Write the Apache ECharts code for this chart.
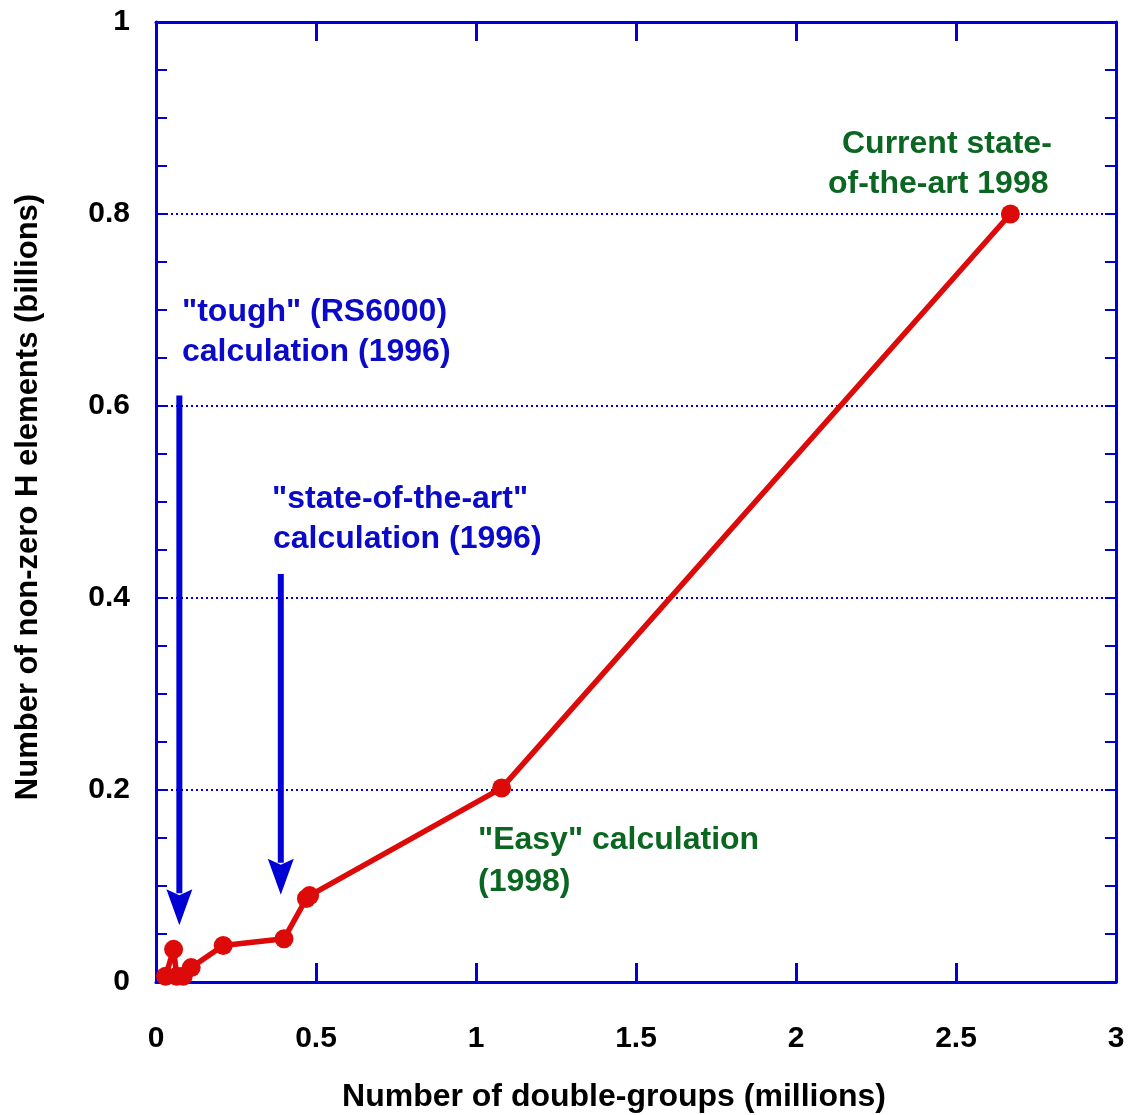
<!DOCTYPE html>
<html>
<head>
<meta charset="utf-8">
<script src="https://cdn.jsdelivr.net/npm/echarts@6/dist/echarts.min.js"></script>
<style>
html,body{margin:0;padding:0;background:#fff;}
#chart{width:1130px;height:1115px;}
</style>
</head>
<body>
<div id="chart"></div>
<script>
// Data (x: millions of double-groups, y: billions of non-zero H elements)
const xValues = [0.03, 0.055, 0.065, 0.085, 0.11, 0.21, 0.40, 0.47, 0.48, 1.08, 2.67];
const yValues = [0.006, 0.034, 0.006, 0.006, 0.015, 0.038, 0.045, 0.087, 0.090, 0.202, 0.80];
// Arrows: x, top y, tip y
const arrowX = [0.073, 0.39];
const arrowTop = [0.611, 0.425];
const arrowTip = [0.059, 0.091];
const xTicks = [0, 0.5, 1, 1.5, 2, 2.5, 3];
const yTicks = [0, 0.2, 0.4, 0.6, 0.8, 1];
const xAxisTitle = 'Number of double-groups (millions)';
const yAxisTitle = 'Number of non-zero H elements (billions)';

const FONT = '"Liberation Sans", Arial, Helvetica, sans-serif';
const BLUE = '#0000d4';
const TEXTBLUE = '#0a0ac8';
const GREEN = '#0b6621';
const RED = '#dd0a0a';

const chart = echarts.init(document.getElementById('chart'));
const pts = xValues.map((x, i) => [x, yValues[i]]);
const arrows = arrowX.map((x, i) => [x, arrowTop[i], arrowTip[i]]);

const fmt = v => String(Math.round(v * 1000) / 1000);

const baseX = {
  type: 'value', min: xTicks[0], max: xTicks[xTicks.length - 1], interval: 0.5,
  axisLine: {show: true, onZero: false, lineStyle: {color: BLUE, width: 3}},
  axisTick: {show: true, inside: true, length: 19, lineStyle: {color: BLUE, width: 3}},
  splitLine: {show: false}
};
const baseY = {
  type: 'value', min: yTicks[0], max: yTicks[yTicks.length - 1], interval: 0.2,
  axisLine: {show: true, onZero: false, lineStyle: {color: BLUE, width: 3}},
  axisTick: {show: true, inside: true, length: 11, lineStyle: {color: BLUE, width: 2}},
  minorTick: {show: true, splitNumber: 4, length: 11, lineStyle: {color: BLUE, width: 2}},
  splitLine: {show: false}
};

const annotations = [
  {x: 182, y: 310, text: '"tough" (RS6000)', color: TEXTBLUE},
  {x: 182, y: 350, text: 'calculation (1996)', color: TEXTBLUE},
  {x: 272, y: 497, text: '"state-of-the-art"', color: TEXTBLUE},
  {x: 273, y: 537, text: 'calculation (1996)', color: TEXTBLUE},
  {x: 478, y: 838, text: '"Easy" calculation', color: GREEN},
  {x: 478, y: 880, text: '(1998)', color: GREEN},
  {x: 842, y: 142, text: 'Current state-', color: GREEN},
  {x: 828, y: 182, text: 'of-the-art 1998', color: GREEN}
];

chart.setOption({
  animation: false,
  backgroundColor: '#fff',
  grid: {left: 156, right: 14, top: 22, bottom: 133, containLabel: false, outerBoundsMode: 'none'},
  xAxis: [
    Object.assign({}, baseX, {
      position: 'bottom',
      name: xAxisTitle, nameLocation: 'middle', nameGap: 99,
      nameTextStyle: {fontFamily: FONT, fontWeight: 'bold', fontSize: 32, color: '#000', padding: [0, 44, 0, 0]},
      axisLabel: {show: true, margin: 42, fontFamily: FONT, fontWeight: 'bold', fontSize: 30, color: '#000', formatter: fmt}
    }),
    Object.assign({}, baseX, {position: 'top', axisLabel: {show: false}})
  ],
  yAxis: [
    Object.assign({}, baseY, {
      position: 'left',
      name: yAxisTitle, nameLocation: 'middle', nameGap: 112,
      nameTextStyle: {fontFamily: FONT, fontWeight: 'bold', fontSize: 31, color: '#000', padding: [0, 0, 0, 10]},
      axisLabel: {show: true, margin: 26, fontFamily: FONT, fontWeight: 'bold', fontSize: 30, color: '#000', formatter: fmt},
      splitLine: {show: true, lineStyle: {color: BLUE, width: 2, type: [2, 3]}}
    }),
    Object.assign({}, baseY, {position: 'right', axisLabel: {show: false}})
  ],
  series: [
    {
      type: 'line', xAxisIndex: 0, yAxisIndex: 0,
      data: pts,
      symbol: 'circle', symbolSize: 19,
      lineStyle: {color: RED, width: 5.5},
      itemStyle: {color: RED},
      z: 5
    },
    {
      type: 'custom', xAxisIndex: 0, yAxisIndex: 0,
      data: arrows,
      renderItem: function (params, api) {
        const top = api.coord([api.value(0), api.value(1)]);
        const tip = api.coord([api.value(0), api.value(2)]);
        const headH = 36, headW = 13, shaftW = 3;
        const cx = tip[0];
        return {
          type: 'group',
          children: [
            {type: 'rect', shape: {x: cx - shaftW, y: top[1], width: shaftW * 2, height: tip[1] - top[1] - headH + 4},
             style: {fill: BLUE}},
            {type: 'polygon', shape: {points: [[cx - headW, tip[1] - headH], [cx, tip[1] - headH + 6], [cx + headW, tip[1] - headH], [cx, tip[1]]]},
             style: {fill: BLUE}}
          ]
        };
      },
      z: 4
    }
  ],
  graphic: annotations.map(a => ({
    type: 'text', left: a.x, top: a.y - 14,
    style: {text: a.text, fill: a.color, font: 'bold 32px ' + FONT}
  }))
});
</script>
</body>
</html>
